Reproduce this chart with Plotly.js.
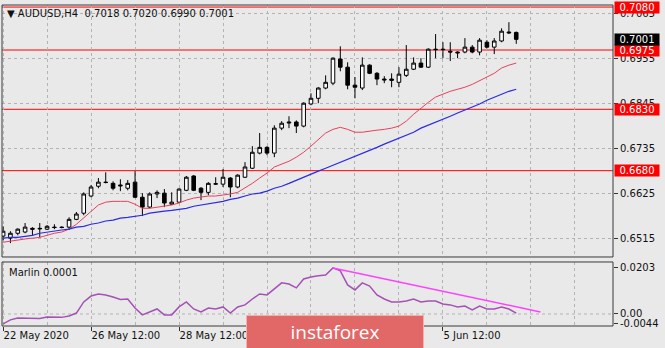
<!DOCTYPE html>
<html>
<head>
<meta charset="utf-8">
<script src="https://cdn.plot.ly/plotly-3.0.1.min.js"></script>
<style>html,body{margin:0;padding:0;background:#e9e9e9;}#chart{width:665px;height:348px;}</style>
</head>
<body>
<div id="chart"></div>
<script>
// ---- Data (AUDUSD H4) ----
const opens = [0.6520,0.6515,0.6527,0.6530,0.6539,0.6539,0.6537,0.6542,0.6542,0.6542,
0.6561,0.6576,0.6618,0.6642,0.6652,0.6649,0.6645,0.6637,0.6652,0.6615,
0.6591,0.6623,0.6625,0.6598,0.6603,0.6632,0.6667,0.6637,0.6627,0.6647,
0.6647,0.6662,0.6640,0.6664,0.6686,0.6723,0.6737,0.6723,0.6784,0.6799,
0.6799,0.6789,0.6843,0.6857,0.6882,0.6894,0.6953,0.6933,0.6889,0.6882,
0.6938,0.6918,0.6904,0.6904,0.6896,0.6913,0.6928,0.6943,0.6933,0.6977,
0.6977,0.6972,0.6970,0.6970,0.6982,0.6970,0.6994,0.6982,0.6997,0.7019,
0.7018];
const highs = [0.6544,0.6532,0.6539,0.6552,0.6542,0.6552,0.6547,0.6549,0.6544,0.6566,
0.6579,0.6627,0.6645,0.6662,0.6676,0.6654,0.6659,0.6657,0.6679,0.6625,
0.6627,0.6632,0.6635,0.6627,0.6637,0.6667,0.6669,0.6640,0.6652,0.6664,
0.6684,0.6664,0.6671,0.6701,0.6740,0.6772,0.6740,0.6791,0.6801,0.6813,
0.6803,0.6847,0.6869,0.6884,0.6913,0.6957,0.6984,0.6945,0.6909,0.6957,
0.6940,0.6921,0.6911,0.6918,0.6933,0.6987,0.6957,0.6955,0.6979,0.7014,
0.6994,0.6994,0.6972,0.7004,0.6987,0.7004,0.6999,0.7004,0.7028,0.7043,
0.7020];
const lows = [0.6510,0.6503,0.6522,0.6527,0.6522,0.6517,0.6535,0.6537,0.6539,0.6535,
0.6559,0.6571,0.6615,0.6637,0.6649,0.6632,0.6630,0.6632,0.6613,0.6569,
0.6588,0.6613,0.6591,0.6596,0.6601,0.6630,0.6630,0.6608,0.6620,0.6645,
0.6640,0.6615,0.6637,0.6662,0.6684,0.6720,0.6718,0.6713,0.6779,0.6784,
0.6772,0.6786,0.6840,0.6845,0.6879,0.6889,0.6923,0.6879,0.6857,0.6877,
0.6916,0.6889,0.6894,0.6884,0.6884,0.6909,0.6926,0.6931,0.6931,0.6955,
0.6955,0.6948,0.6955,0.6967,0.6967,0.6962,0.6979,0.6965,0.6994,0.7014,
0.6990];
const closes = [0.6532,0.6527,0.6537,0.6542,0.6537,0.6538,0.6544,0.6541,0.6541,0.6561,
0.6574,0.6623,0.6640,0.6652,0.6651,0.6637,0.6643,0.6649,0.6615,0.6591,
0.6623,0.6627,0.6601,0.6603,0.6635,0.6664,0.6632,0.6627,0.6649,0.6648,
0.6664,0.6640,0.6669,0.6689,0.6725,0.6737,0.6723,0.6784,0.6796,0.6797,
0.6789,0.6845,0.6857,0.6882,0.6896,0.6955,0.6933,0.6889,0.6884,0.6938,
0.6918,0.6904,0.6902,0.6901,0.6916,0.6928,0.6943,0.6933,0.6977,0.6976,
0.6976,0.6970,0.6968,0.6982,0.6970,0.6999,0.6982,0.6997,0.7021,0.7017,
0.7001];
const maFast = [0.6505,0.6508,0.6510,0.6513,0.6515,0.6517,0.6522,0.6527,0.6530,0.6537,
0.6549,0.6564,0.6581,0.6596,0.6603,0.6605,0.6605,0.6605,0.6598,0.6588,
0.6588,0.6591,0.6593,0.6596,0.6601,0.6608,0.6613,0.6615,0.6618,0.6618,
0.6620,0.6623,0.6627,0.6637,0.6649,0.6662,0.6674,0.6689,0.6696,0.6703,
0.6713,0.6725,0.6740,0.6757,0.6772,0.6781,0.6786,0.6781,0.6774,0.6774,
0.6777,0.6779,0.6781,0.6784,0.6789,0.6801,0.6818,0.6833,0.6847,0.6860,
0.6867,0.6874,0.6879,0.6884,0.6891,0.6901,0.6909,0.6918,0.6931,0.6938,
0.6943];
const maSlow = [0.6515,0.6517,0.6517,0.6520,0.6522,0.6527,0.6530,0.6532,0.6535,0.6537,
0.6542,0.6544,0.6549,0.6552,0.6557,0.6559,0.6564,0.6566,0.6569,0.6571,
0.6576,0.6579,0.6581,0.6583,0.6586,0.6588,0.6593,0.6596,0.6598,0.6601,
0.6605,0.6610,0.6613,0.6618,0.6623,0.6625,0.6630,0.6637,0.6642,0.6649,
0.6657,0.6664,0.6671,0.6679,0.6686,0.6693,0.6701,0.6708,0.6715,0.6723,
0.6730,0.6737,0.6745,0.6752,0.6759,0.6767,0.6774,0.6784,0.6791,0.6798,
0.6806,0.6813,0.6821,0.6828,0.6835,0.6843,0.6852,0.6860,0.6867,0.6874,
0.6879];
const marlin = [-0.0044,-0.0026,-0.0018,-0.0018,-0.0018,-0.0020,-0.0013,-0.0013,-0.0015,-0.0009,
0.0004,0.0053,0.0079,0.0088,0.0084,0.0075,0.0064,0.0066,0.0026,-0.0004,
0.0009,0.0022,-0.0004,-0.0004,0.0031,0.0053,0.0022,0.0009,0.0026,0.0022,
0.0031,0.0004,0.0031,0.0040,0.0066,0.0088,0.0084,0.0110,0.0137,0.0132,
0.0115,0.0154,0.0163,0.0168,0.0172,0.0203,0.0190,0.0128,0.0106,0.0137,
0.0123,0.0084,0.0066,0.0053,0.0053,0.0057,0.0066,0.0053,0.0057,0.0057,
0.0044,0.0040,0.0031,0.0035,0.0018,0.0035,0.0022,0.0022,0.0031,0.0022,
0.0004];
const trendX = [45, 73.3];
const trendY = [0.0203, 0.0009];
const levels = [0.7080, 0.6975, 0.6830, 0.6680];
const priceTicks = [0.7065, 0.6955, 0.6845, 0.6735, 0.6625, 0.6515];
const marlinTicks = [0.0203, 0, -0.0044];
const marlinTickText = ['0.0203', '0.00', '-0.0044'];
const labelBars = [0, 12, 24, 36, 48, 60];
const dateLabels = ['22 May 2020', '26 May 12:00', '28 May 12:00', '1 Jun 12:00', '3 Jun 12:00', '5 Jun 12:00'];
const symbolTitle = 'AUDUSD,H4';
const indicatorTitle = 'Marlin 0.0001';
const watermark = 'instaforex';

// ---- Build ----
const idx = opens.map((_, i) => i);
const last = opens.length - 1;
const gridColor = '#b3b3b3';
const gridDash = '3px,3px';
const FONT = 'DejaVu Sans, Verdana, sans-serif';

const traces = [
  {type: 'candlestick', x: idx, open: opens, high: highs, low: lows, close: closes,
   xaxis: 'x', yaxis: 'y', hoverinfo: 'skip',
   increasing: {line: {color: '#000000', width: 1}, fillcolor: '#ffffff'},
   decreasing: {line: {color: '#000000', width: 1}, fillcolor: '#000000'}},
  {type: 'scatter', mode: 'lines', x: idx, y: maFast, xaxis: 'x', yaxis: 'y',
   line: {color: '#e8405c', width: 1}, hoverinfo: 'skip'},
  {type: 'scatter', mode: 'lines', x: idx, y: maSlow, xaxis: 'x', yaxis: 'y',
   line: {color: '#2a2ae8', width: 1.2}, hoverinfo: 'skip'},
  {type: 'scatter', mode: 'lines', x: idx, y: marlin, xaxis: 'x', yaxis: 'y2',
   line: {color: '#a452b4', width: 1.5}, hoverinfo: 'skip'},
  {type: 'scatter', mode: 'lines', x: trendX, y: trendY, xaxis: 'x', yaxis: 'y2',
   line: {color: '#ff40ff', width: 1.5}, hoverinfo: 'skip'}
];

const shapes = [];
levels.forEach(v => shapes.push({type: 'line', xref: 'paper', x0: 0, x1: 1, yref: 'y', y0: v, y1: v,
  line: {color: '#ff0000', width: 1}, layer: 'below'}));
shapes.push({type: 'line', xref: 'paper', x0: 0, x1: 1, yref: 'y2', y0: 0, y1: 0,
  line: {color: gridColor, width: 1, dash: gridDash}, layer: 'below'});
shapes.push({type: 'rect', xref: 'paper', yref: 'paper', x0: 0, x1: 1, y0: 0.215, y1: 1,
  line: {color: '#3a3a3a', width: 1}, fillcolor: 'rgba(0,0,0,0)', layer: 'above'});
shapes.push({type: 'rect', xref: 'paper', yref: 'paper', x0: 0, x1: 1, y0: 0, y1: 0.1994,
  line: {color: '#3a3a3a', width: 1}, fillcolor: 'rgba(0,0,0,0)', layer: 'above'});

const annotations = [];
levels.forEach(v => annotations.push({xref: 'paper', x: 1, xanchor: 'left', xshift: 1,
  yref: 'y', y: v, yanchor: 'middle', text: v.toFixed(4), showarrow: false,
  bgcolor: '#ff0000', width: 44, height: 11, borderpad: 0,
  font: {family: FONT, size: 10, color: '#ffffff'}}));
annotations.push({xref: 'paper', x: 1, xanchor: 'left', xshift: 1,
  yref: 'y', y: closes[last], yanchor: 'middle', text: closes[last].toFixed(4), showarrow: false,
  bgcolor: '#000000', width: 44, height: 11, borderpad: 0,
  font: {family: FONT, size: 10, color: '#ffffff'}});
annotations.push({xref: 'paper', x: 0, xanchor: 'left', xshift: 3,
  yref: 'paper', y: 1, yanchor: 'top', yshift: -1, showarrow: false,
  text: '\u25BC ' + symbolTitle + '  ' + [opens[last], highs[last], lows[last], closes[last]].map(v => v.toFixed(4)).join(' '),
  font: {family: FONT, size: 10, color: '#111111'}});
annotations.push({xref: 'paper', x: 0, xanchor: 'left', xshift: 5,
  yref: 'paper', y: 0.1994, yanchor: 'top', yshift: -3, showarrow: false,
  text: indicatorTitle, font: {family: FONT, size: 10, color: '#111111'}});
annotations.push({xref: 'paper', x: 0.545, xanchor: 'center',
  yref: 'paper', y: -0.0187, yanchor: 'middle', showarrow: false,
  text: watermark, bgcolor: '#e26868', bordercolor: '#f2b0b0', borderwidth: 1,
  width: 176, height: 32, borderpad: 0,
  font: {family: 'Open Sans, sans-serif', size: 19, color: '#ffffff'}});

const layout = {
  width: 665, height: 348,
  margin: {l: 2, r: 52, t: 5, b: 22},
  paper_bgcolor: '#e9e9e9', plot_bgcolor: '#e9e9e9',
  showlegend: false,
  font: {family: FONT, size: 10, color: '#111111'},
  xaxis: {domain: [0, 1], anchor: 'y2', range: [-0.15, 83.2],
    tickmode: 'array', tickvals: labelBars, ticktext: dateLabels,
    ticks: 'outside', ticklen: 4, tickcolor: '#333333',
    ticklabelposition: 'outside right',
    showgrid: true, gridcolor: gridColor, griddash: gridDash, gridwidth: 1,
    minor: {tickmode: 'linear', tick0: 0, dtick: 6, showgrid: true, gridcolor: gridColor, griddash: gridDash, ticks: ''},
    zeroline: false, showline: false, rangeslider: {visible: false}, fixedrange: true,
    tickfont: {family: FONT, size: 10, color: '#111111'}},
  yaxis: {domain: [0.215, 1], range: [0.6469, 0.7085], side: 'right', anchor: 'x',
    tickmode: 'array', tickvals: priceTicks, ticktext: priceTicks.map(v => v.toFixed(4)),
    ticks: 'outside', ticklen: 4, tickcolor: '#333333',
    showgrid: true, gridcolor: gridColor, griddash: gridDash, gridwidth: 1,
    zeroline: false, showline: false, fixedrange: true,
    tickfont: {family: FONT, size: 10, color: '#111111'}},
  yaxis2: {domain: [0, 0.1994], range: [-0.0053, 0.0229], side: 'right', anchor: 'x',
    tickmode: 'array', tickvals: marlinTicks, ticktext: marlinTickText,
    ticks: 'outside', ticklen: 4, tickcolor: '#333333',
    showgrid: false, zeroline: false, showline: false, fixedrange: true,
    tickfont: {family: FONT, size: 10, color: '#111111'}},
  shapes: shapes,
  annotations: annotations
};

Plotly.newPlot('chart', traces, layout, {staticPlot: true, displayModeBar: false});
</script>
</body>
</html>
